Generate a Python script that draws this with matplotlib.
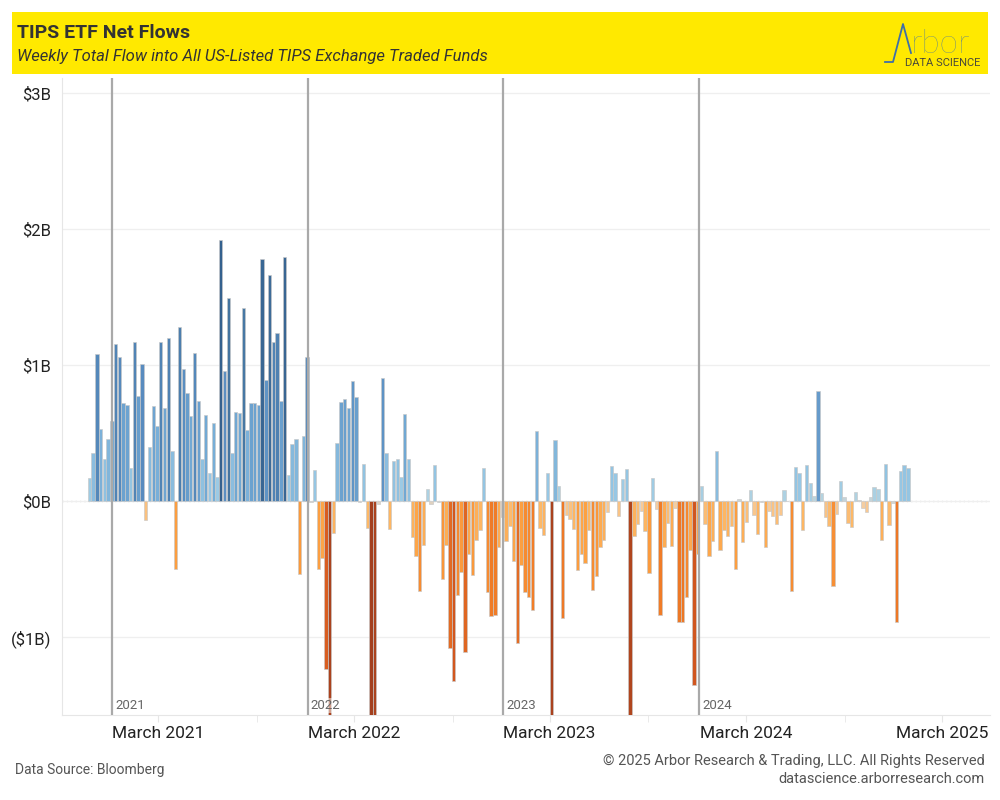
import pandas as pd
import matplotlib
matplotlib.use("Agg")
import matplotlib.pyplot as plt
from matplotlib.colors import LinearSegmentedColormap, Normalize
from matplotlib.patches import Rectangle
from matplotlib.lines import Line2D

# weekly net flows, $B (weeks ending on Fridays, first week 2020-11-20)
flows_2020 = [0.17, 0.355, 1.084, 0.53, 0.307, 0.458]
flows_2021 = [0.59, 1.157, 1.06, 0.723, 0.708, 0.24, 1.17, 0.774, 1.009, -0.139,
              0.398, 0.699, 0.551, 1.17, 0.684, 1.196, 0.367, -0.5, 1.283, 0.973,
              0.795, 0.627, 1.09, 0.738, 0.307, 0.633, 0.205, 0.575, 0.178, 1.916,
              0.958, 1.494, 0.355, 0.657, 0.648, 1.416, 0.524, 0.723, 0.723, 0.708,
              1.777, 0.892, 1.66, 1.17, 1.232, 0.738, 1.792, 0.193, 0.42, 0.458,
              -0.536, 0.479, 1.06]
flows_2022 = [-0.01, 0.229, -0.5, -0.42, -1.232, -1.9, -0.235, 0.428, 0.729, 0.75,
              0.684, 0.886, 0.765, -0.005, 0.271, -0.196, -2.0, -1.9, -0.024, 0.907,
              0.355, -0.205, 0.295, 0.307, 0.178, 0.642, 0.307, -0.265, -0.407, -0.663,
              -0.325, 0.09, -0.018, 0.265, -0.005, -0.572, -0.325, -1.078, -1.319, -0.693,
              -0.524, -1.111, -0.392, -0.545, -0.286, -0.214, 0.241, -0.672, -0.846, -0.84,
              -0.34, -0.12]
flows_2023 = [-0.295, -0.184, -0.437, -1.04, -0.47, -0.672, -0.708, -0.798, 0.518, -0.199,
              -0.25, 0.205, -1.9, 0.449, 0.108, -0.861, -0.102, -0.13, -0.205, -0.506,
              -0.392, -0.455, -0.214, -0.657, -0.554, -0.34, -0.286, -0.081, 0.259, 0.205,
              -0.111, 0.163, 0.235, -1.8, -0.256, -0.169, -0.072, -0.22, -0.53, 0.169,
              -0.057, -0.837, -0.34, -0.163, -0.331, -0.054, -0.889, -0.889, -0.708, -0.361,
              -1.355, -0.386]
flows_2024 = [0.114, -0.166, -0.404, -0.295, 0.367, -0.361, -0.214, -0.259, -0.184, -0.5,
              0.012, -0.301, -0.154, 0.081, -0.102, -0.244, -0.004, -0.34, -0.075, -0.111,
              -0.169, -0.102, 0.081, 0.003, -0.663, 0.25, 0.205, -0.214, 0.265, 0.133,
              0.036, 0.81, 0.057, -0.12, -0.184, -0.627, -0.093, 0.148, 0.027, -0.163,
              -0.193, 0.066, 0.006, -0.054, -0.081, 0.03, 0.102, 0.087, -0.286, 0.271,
              -0.178, -0.012]
flows_2025 = [-0.886, 0.22, 0.265, 0.241]

start_week = "2020-11-20"
year_lines = ["2021-01-01", "2022-01-01", "2023-01-01", "2024-01-01"]
year_labels = ["2021", "2022", "2023", "2024"]
tick_dates = ["2021-03-28", "2022-03-28", "2023-03-28", "2024-03-28", "2025-03-28"]
tick_labels = ["March 2021", "March 2022", "March 2023", "March 2024", "March 2025"]
minor_dates = ["2021-09-28", "2022-09-28", "2023-09-28", "2024-09-28"]
y_ticks = [-1, 0, 1, 2, 3]
y_labels = ["($1B)", "$0B", "$1B", "$2B", "$3B"]

flows = flows_2020 + flows_2021 + flows_2022 + flows_2023 + flows_2024 + flows_2025
weeks = pd.date_range(start_week, periods=len(flows), freq="7D")

plt.rcParams["font.family"] = ["Roboto", "DejaVu Sans"]

# orange-blue diverging palette
stops = [(-2.0, "#a33f1e"), (-1.3, "#d4581f"), (-0.8, "#f27f28"), (-0.45, "#fda243"),
         (-0.2, "#fdb765"), (-0.06, "#f7cc9c"), (0.0, "#cfd5d6"), (0.06, "#b2d3e1"),
         (0.2, "#98c8e4"), (0.6, "#75acd6"), (1.0, "#588cc0"), (1.5, "#44749f"),
         (2.0, "#315d8b")]
cmap = LinearSegmentedColormap.from_list("ob", [((v + 2) / 4, c) for v, c in stops])
norm = Normalize(-2, 2)
colors = [cmap(norm(v)) for v in flows]

fig = plt.figure(figsize=(10, 8), dpi=100)

# header band
fig.patches.append(Rectangle((0.012, 1 - 74 / 800), 0.976, 62 / 800, transform=fig.transFigure,
                             facecolor="#ffe900", edgecolor="none", zorder=0))
fig.text(0.017, 1 - 33 / 800, "TIPS ETF Net Flows", fontsize=14, fontweight="bold",
         color="#333333", va="center", ha="left")
fig.text(0.017, 1 - 57 / 800, "Weekly Total Flow into All US-Listed TIPS Exchange Traded Funds",
         fontsize=12, style="italic", color="#333333", va="center", ha="left")

# logo
logo_x = [885 / 1000, 893 / 1000, 903 / 1000, 911 / 1000]
logo_y = [1 - 62 / 800, 1 - 62 / 800, 1 - 24 / 800, 1 - 53 / 800]
fig.lines.append(Line2D(logo_x, logo_y, transform=fig.transFigure, color="#3f6fa8", lw=1.3))
fig.text(0.911, 1 - 53 / 800, "rbor", fontsize=24, color="#3f6fa8", ha="left", va="baseline",
         family=["Lato", "DejaVu Sans"], fontweight="light")
fig.text(0.980, 1 - 66 / 800, "DATA SCIENCE", fontsize=8, color="#4a4a3a", ha="right",
         va="baseline")

ax = fig.add_axes([0.062, 0.106, 0.928, 0.7965])
ax.bar(weeks, flows, width=6.3, color=colors, edgecolor="#c8c8c8", linewidth=0.45, zorder=3)

ax.axhline(0, color="#b0b0b0", lw=0.9, ls=(0, (1, 2.5)), zorder=1)
for d, lab in zip(year_lines, year_labels):
    ax.axvline(pd.Timestamp(d), color="#a9a9a9", lw=1.6, zorder=4)
    ax.text(pd.Timestamp(d) + pd.Timedelta(days=6), -1.55, lab, fontsize=9.5, color="#666666",
            ha="left", va="bottom", zorder=5,
            bbox=dict(facecolor="white", alpha=0.5, edgecolor="none", pad=0.5))

ax.set_xlim(pd.Timestamp("2020-09-30"), pd.Timestamp("2025-06-26"))
ax.set_ylim(-1.574, 3.11)
ax.set_yticks(y_ticks)
ax.set_yticklabels(y_labels)
ax.set_xticks(pd.to_datetime(tick_dates))
ax.set_xticklabels(tick_labels)
ax.set_xticks(pd.to_datetime(minor_dates), minor=True)
ax.grid(axis="y", color="#efefef", lw=0.9, zorder=0)
ax.tick_params(axis="y", length=0, labelsize=12, pad=8, labelcolor="#222222")
ax.tick_params(axis="x", which="both", length=5, color="#e6e6e6", labelsize=12.5, pad=3,
               labelcolor="#222222")
for s in ["top", "right"]:
    ax.spines[s].set_visible(False)
for s in ["left", "bottom"]:
    ax.spines[s].set_color("#e6e6e6")

# footer
fig.text(0.015, 1 - 770 / 800, "Data Source: Bloomberg", fontsize=10, color="#555555",
         ha="left", va="center")
fig.text(0.985, 1 - 761 / 800, "\u00a9 2025 Arbor Research & Trading, LLC. All Rights Reserved",
         fontsize=10.5, color="#555555", ha="right", va="center")
fig.text(0.985, 1 - 779 / 800, "datascience.arborresearch.com", fontsize=10.5,
         color="#555555", ha="right", va="center")

fig.savefig("out.png", dpi=100)
